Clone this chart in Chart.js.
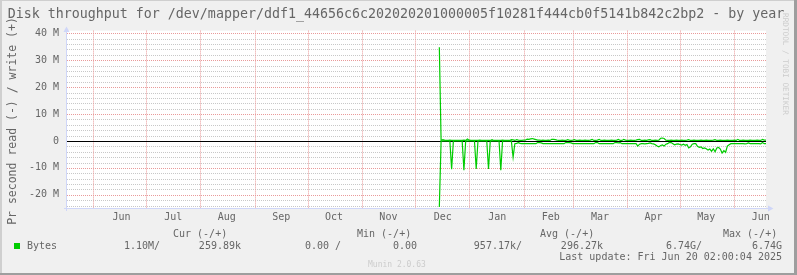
<!DOCTYPE html>
<html>
<head>
<meta charset="utf-8">
<title>Disk throughput - by year</title>
<script src="https://cdn.jsdelivr.net/npm/chart.js@4.4.0/dist/chart.umd.min.js"></script>
<style>
    html, body { margin: 0; padding: 0; background: #f0f0f0; }
    canvas { display: block; }
</style>
</head>
<body>
<canvas id="diskChart" width="797" height="275"></canvas>
<script>
// x axis is in days, day 0 = 2024-05-17, one sample per day
const totalDays = 398;
const monthNames = ['Jun', 'Jul', 'Aug', 'Sep', 'Oct', 'Nov', 'Dec', 'Jan', 'Feb', 'Mar', 'Apr', 'May', 'Jun'];
const monthStartDays = [15, 45, 76, 107, 137, 168, 198, 229, 260, 288, 319, 349, 380];
const monthLabelDays = [31, 60.5, 91, 122, 152, 183, 214, 245, 275.5, 303.5, 334, 364, 395];

const yLabelValues = [-20, -10, 0, 10, 20, 30, 40];
const yLabels = ['-20 M', '-10 M', '0', '10 M', '20 M', '30 M', '40 M'];
const yMinorStep = 2;

// data begins on day 212, values in MB/s
const firstDataDay = 212;
const writeMB = [
    34.8, 0.2, 0.5, 0.3, 0.2, 0.2, 0.3, 0.2, 0.2, 0.2,
    0.2, 0.2, 0.2, 0.2, 0.3, 0.2, 0.7, 0.3, 0.2, 0.2,
    0.2, 0.2, 0.2, 0.3, 0.2, 0.2, 0.2, 0.2, 0.2, 0.2,
    0.5, 0.2, 0.2, 0.2, 0.2, 0.2, 0.3, 0.2, 0.2, 0.2,
    0.2, 0.5, 0.4, 0.2, 0.5, 0.3, 0.2, 0.2, 0.3, 0.3,
    0.7, 0.6, 0.8, 0.9, 0.7, 0.5, 0.3, 0.3, 0.2, 0.3,
    0.2, 0.2, 0.3, 0.2, 0.6, 0.6, 0.5, 0.3, 0.2, 0.2,
    0.3, 0.2, 0.2, 0.5, 0.3, 0.2, 0.3, 0.5, 0.2, 0.2,
    0.3, 0.2, 0.2, 0.3, 0.2, 0.2, 0.3, 0.6, 0.2, 0.2,
    0.3, 0.6, 0.2, 0.2, 0.3, 0.2, 0.2, 0.2, 0.3, 0.2,
    0.2, 0.3, 0.6, 0.2, 0.2, 0.6, 0.3, 0.2, 0.2, 0.3,
    0.2, 0.2, 0.3, 0.5, 0.6, 0.2, 0.2, 0.3, 0.2, 0.4,
    0.5, 0.2, 0.2, 0.3, 0.2, 0.3, 1.0, 1.1, 0.9, 0.3,
    0.2, 0.2, 0.3, 0.2, 0.2, 0.3, 0.2, 0.2, 0.3, 0.2,
    0.2, 0.3, 0.5, 0.2, 0.2, 0.3, 0.2, 0.2, 0.2, 0.3,
    0.2, 0.2, 0.3, 0.2, 0.2, 0.2, 0.3, 0.5, 0.2, 0.2,
    0.3, 0.2, 0.2, 0.2, 0.3, 0.2, 0.2, 0.2, 0.3, 0.2,
    0.6, 0.2, 0.2, 0.3, 0.2, 0.2, 0.2, 0.3, 0.2, 0.2,
    0.2, 0.3, 0.2, 0.2, 0.6, 0.3, 0.3
];
// read is drawn below zero
const readMB = [
    24.5, 0.1, 0, 0, 0, 0, 0, 10.5, 0, 0,
    0, 0, 0, 0, 10.9, 0, 0, 0, 0, 0,
    0, 10.4, 0, 0, 0, 0, 0, 0, 10.4, 0,
    0, 0, 0, 0, 0, 10.9, 0, 0, 0, 0,
    0, 0, 6.0, 1.0, 0.9, 0.6, 0.9, 1.0, 1.0, 1.0,
    1.0, 1.0, 1.0, 1.0, 1.0, 1.0, 0.6, 0.6, 0.7, 1.0,
    1.0, 1.0, 1.0, 1.0, 1.0, 1.0, 1.0, 1.0, 1.0, 1.0,
    1.0, 1.0, 0.6, 0.6, 0.6, 0.7, 1.0, 1.0, 1.0, 1.0,
    1.0, 1.0, 1.0, 1.0, 1.0, 1.0, 1.0, 1.0, 1.0, 0.6,
    0.6, 1.0, 1.0, 1.0, 1.0, 1.0, 1.0, 1.0, 1.0, 1.0,
    0.6, 0.6, 0.7, 0.6, 1.0, 1.0, 1.0, 1.0, 1.0, 1.0,
    1.0, 1.0, 1.0, 1.9, 1.2, 1.0, 1.0, 1.1, 1.0, 0.9,
    0.7, 1.0, 1.1, 1.4, 1.9, 2.2, 1.7, 1.5, 1.9, 1.2,
    1.0, 0.5, 0.6, 1.0, 1.4, 1.2, 1.1, 1.3, 1.5, 1.2,
    1.6, 1.3, 2.6, 2.2, 1.2, 1.0, 1.0, 2.0, 2.4, 2.2,
    2.8, 2.6, 2.9, 3.4, 3.0, 3.8, 2.9, 4.0, 2.6, 2.4,
    3.0, 4.5, 3.6, 4.2, 1.9, 1.4, 1.0, 1.0, 1.0, 1.0,
    1.0, 1.0, 1.0, 1.0, 1.1, 1.0, 0.7, 1.0, 1.0, 1.0,
    1.0, 1.0, 1.0, 1.1, 0.6, 1.0, 1.0
];

const titleText = 'Disk throughput for /dev/mapper/ddf1_44656c6c202020201000005f10281f444cb0f5141b842c2bp2 - by year';
const vLabel = 'Pr second read (-) / write (+)';
const legendHeads = ['Cur (-/+)', 'Min (-/+)', 'Avg (-/+)', 'Max (-/+)'];
const legendReads = ['1.10M/', '0.00 /', '957.17k/', '6.74G/'];
const legendWrites = ['259.89k', '0.00', '296.27k', '6.74G'];
const lastUpdate = 'Last update: Fri Jun 20 02:00:04 2025';

const FONT = '"DejaVu Sans Mono", monospace';
const TEXT = '#666666';
const GREEN = '#00cc00';
const MGRID = '#e99a9a';
const GRID = '#c8c8c8';
const AXIS = '#cfd6f8';

const writePoints = writeMB.map((v, i) => ({ x: firstDataDay + i, y: v }));
const readPoints = readMB.map((v, i) => ({ x: firstDataDay + i, y: -v }));

const muninDecor = {
    id: 'muninDecor',
    beforeDraw(chart) {
        const { ctx, chartArea: a, width, height } = chart;
        ctx.save();
        ctx.fillStyle = '#f0f0f0';
        ctx.fillRect(0, 0, width, height);
        ctx.fillStyle = '#ffffff';
        ctx.fillRect(a.left, a.top, a.right - a.left, a.bottom - a.top);
        ctx.restore();
    },
    beforeDatasetsDraw(chart) {
        const { ctx, chartArea: a, scales } = chart;
        ctx.save();
        ctx.lineWidth = 1;
        ctx.setLineDash([1, 1]);

        // horizontal dotted grid, red on labelled values
        for (let v = Math.ceil(scales.y.min / yMinorStep) * yMinorStep; v <= scales.y.max; v += yMinorStep) {
            if (v === 0) continue;
            const y = Math.round(scales.y.getPixelForValue(v)) + 0.5;
            ctx.strokeStyle = yLabelValues.includes(v) ? MGRID : GRID;
            ctx.beginPath();
            ctx.moveTo(a.left, y);
            ctx.lineTo(a.right, y);
            ctx.stroke();
        }
        // vertical dotted lines at month starts
        ctx.strokeStyle = MGRID;
        monthStartDays.forEach(d => {
            const x = Math.round(scales.x.getPixelForValue(d)) + 0.5;
            ctx.beginPath();
            ctx.moveTo(x, a.top);
            ctx.lineTo(x, a.bottom);
            ctx.stroke();
        });
        ctx.setLineDash([]);

        // zero rule
        const y0 = Math.round(scales.y.getPixelForValue(0)) + 0.5;
        ctx.strokeStyle = '#000000';
        ctx.beginPath();
        ctx.moveTo(a.left, y0);
        ctx.lineTo(a.right, y0);
        ctx.stroke();
        ctx.restore();
    },
    afterDraw(chart) {
        const { ctx, chartArea: a, width, height } = chart;
        ctx.save();

        // axes with arrows
        ctx.strokeStyle = AXIS;
        ctx.fillStyle = AXIS;
        ctx.lineWidth = 1;
        ctx.beginPath();
        ctx.moveTo(a.left - 0.5, a.bottom + 3);
        ctx.lineTo(a.left - 0.5, a.top - 1);
        ctx.moveTo(a.left - 3, a.bottom + 0.5);
        ctx.lineTo(a.right + 3, a.bottom + 0.5);
        ctx.stroke();
        ctx.beginPath();
        ctx.moveTo(a.left - 3.5, a.top + 1.5);
        ctx.lineTo(a.left + 2.5, a.top + 1.5);
        ctx.lineTo(a.left - 0.5, a.top - 4);
        ctx.closePath();
        ctx.fill();
        ctx.beginPath();
        ctx.moveTo(a.right + 2, a.bottom - 2.5);
        ctx.lineTo(a.right + 2, a.bottom + 3.5);
        ctx.lineTo(a.right + 7.5, a.bottom + 0.5);
        ctx.closePath();
        ctx.fill();

        // title
        ctx.fillStyle = TEXT;
        ctx.font = '13.3px ' + FONT;
        ctx.textAlign = 'center';
        ctx.textBaseline = 'alphabetic';
        ctx.fillText(titleText, 396, 18);

        // vertical axis label
        ctx.save();
        ctx.translate(16, 121);
        ctx.rotate(-Math.PI / 2);
        ctx.font = '11.5px ' + FONT;
        ctx.fillText(vLabel, 0, 0);
        ctx.restore();

        // rrdtool watermark
        ctx.save();
        ctx.translate(783, 13);
        ctx.rotate(Math.PI / 2);
        ctx.font = '7.7px ' + FONT;
        ctx.textAlign = 'left';
        ctx.fillStyle = '#cccccc';
        ctx.fillText('RRDTOOL / TOBI OETIKER', 0, 0);
        ctx.restore();

        // legend
        ctx.font = '10px ' + FONT;
        ctx.textAlign = 'left';
        const headX = [173, 357, 540, 723];
        const readX = [160, 341, 522, 702];
        const writeX = [241, 417, 603, 782];
        legendHeads.forEach((t, i) => ctx.fillText(t, headX[i], 237));
        ctx.fillText('Bytes', 27, 249);
        ctx.textAlign = 'right';
        legendReads.forEach((t, i) => ctx.fillText(t, readX[i], 249));
        legendWrites.forEach((t, i) => ctx.fillText(t, writeX[i], 249));
        ctx.fillText(lastUpdate, 782, 260);
        ctx.fillStyle = GREEN;
        ctx.fillRect(14, 243, 6, 6);

        ctx.textAlign = 'left';
        ctx.fillStyle = '#cccccc';
        ctx.font = '8px ' + FONT;
        ctx.fillText('Munin 2.0.63', 368, 267);

        // frame
        ctx.fillStyle = '#cfcfcf';
        ctx.fillRect(0, 0, width, 1);
        ctx.fillRect(0, 0, 2, height);
        ctx.fillStyle = '#9e9e9e';
        ctx.fillRect(width - 3, 0, 3, height);
        ctx.fillRect(0, height - 2, width, 2);
        ctx.restore();
    }
};

new Chart(document.getElementById('diskChart').getContext('2d'), {
    type: 'line',
    data: {
        datasets: [{
            label: 'write',
            data: writePoints,
            borderColor: GREEN,
            borderWidth: 1.2,
            pointRadius: 0,
            fill: false,
            tension: 0
        }, {
            label: 'read',
            data: readPoints,
            borderColor: GREEN,
            borderWidth: 1.2,
            pointRadius: 0,
            fill: false,
            tension: 0
        }]
    },
    options: {
        responsive: false,
        animation: false,
        devicePixelRatio: 1,
        events: [],
        layout: {
            padding: { top: 30.6, right: 31, bottom: 0, left: 0 }
        },
        scales: {
            x: {
                type: 'linear',
                min: 0,
                max: totalDays,
                afterFit: (s) => { s.height = 67; },
                afterBuildTicks: (s) => {
                    s.ticks = monthLabelDays.map(v => ({ value: v }));
                },
                grid: { display: false, drawTicks: false },
                border: { display: false },
                ticks: {
                    autoSkip: false,
                    maxRotation: 0,
                    minRotation: 0,
                    padding: 3,
                    color: TEXT,
                    font: { family: FONT, size: 10 },
                    callback: (v) => {
                        const i = monthLabelDays.indexOf(v);
                        return i >= 0 ? monthNames[i] : '';
                    }
                }
            },
            y: {
                min: -24.9,
                max: 41,
                afterFit: (s) => { s.width = 67; },
                afterBuildTicks: (s) => {
                    s.ticks = yLabelValues.map(v => ({ value: v }));
                },
                grid: { display: false, drawTicks: false },
                border: { display: false },
                ticks: {
                    autoSkip: false,
                    padding: 8,
                    color: TEXT,
                    font: { family: FONT, size: 10 },
                    callback: (v) => {
                        const i = yLabelValues.indexOf(v);
                        return i >= 0 ? yLabels[i] : '';
                    }
                }
            }
        },
        plugins: {
            legend: { display: false },
            tooltip: { enabled: false },
            title: { display: false }
        }
    },
    plugins: [muninDecor]
});
</script>
</body>
</html>
